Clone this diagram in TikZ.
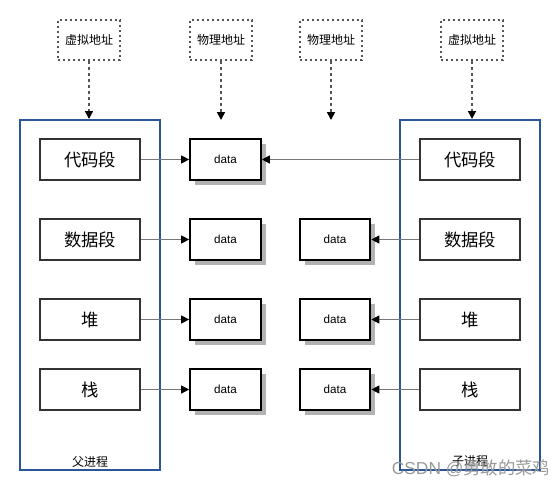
\documentclass[tikz,border=0pt]{standalone}
\usepackage{fontspec}
\setmainfont{Liberation Sans}
\newfontfamily\cjk{Noto Sans CJK SC}
\usepackage{tikz}
\usetikzlibrary{arrows.meta,shadows}
\definecolor{procblue}{HTML}{2A5699}
\definecolor{linegray}{HTML}{777777}
\definecolor{dotgray}{HTML}{555555}

\tikzset{
 addr/.style={draw=dotgray, line width=1.4pt, dash pattern=on 1.5pt off 2.25pt, minimum width=46.5pt, minimum height=30pt, inner sep=0pt, font=\cjk\fontsize{9}{9}\selectfont},
 proc/.style={draw=procblue, line width=1.5pt, minimum width=105pt, minimum height=262.5pt},
 seg/.style={draw=black!80, line width=1.5pt, fill=white, minimum width=75pt, minimum height=30.75pt, font=\cjk\fontsize{13}{13}\selectfont},
 databox/.style={draw=black, line width=1.5pt, fill=white, minimum width=53pt, minimum height=30.75pt, font=\fontsize{8.75}{8.75}\selectfont, drop shadow={shadow xshift=3.75pt, shadow yshift=-3.75pt, fill=black!30, opacity=1}},
 link/.style={draw=linegray, line width=0.75pt, -{Triangle[length=6pt,width=6pt,fill=black,color=black]}},
 addrlink/.style={link, draw=dotgray, line width=1.2pt, dash pattern=on 2.25pt off 2.25pt}
}

\begin{document}
\begin{tikzpicture}[x=0.75pt, y=-0.75pt]
\useasboundingbox (0,0) rectangle (560,490);
% address boxes
\node[addr] (va1) at (89,40) {虚拟地址};
\node[addr] (pa1) at (221,40) {物理地址};
\node[addr] (pa2) at (331,40) {物理地址};
\node[addr] (va2) at (472,40) {虚拟地址};
% processes
\node[proc] (parent) at (90,295) {};
\node[proc] (child) at (470,295) {};
\node[font=\cjk\fontsize{9}{9}\selectfont] (parentlabel) at (90,462) {父进程};
\node[font=\cjk\fontsize{9}{9}\selectfont] (childlabel) at (470,461) {子进程};
\coordinate (pa1end) at (221,120);
\coordinate (pa2end) at (331,120);
\draw[addrlink] (va1) -- (va1 |- parent.north);
\draw[addrlink] (pa1) -- (pa1end);
\draw[addrlink] (pa2) -- (pa2end);
\draw[addrlink] (va2) -- (va2 |- child.north);
% segments and data
\foreach \i/\y/\name in {1/159.5/代码段,2/239.5/数据段,3/319.5/堆,4/389.5/栈}{
  \node[seg] (p\i) at (90,\y) {\name};
  \node[seg] (c\i) at (470,\y) {\name};
  \node[databox] (d\i) at (225.5,\y) {data};
  \draw[link] (p\i) -- (d\i);
}
\foreach \i/\y in {2/239.5,3/319.5,4/389.5}{
  \node[databox] (e\i) at (335,\y) {data};
  \draw[link] (c\i) -- (e\i);
}
\draw[link] (c1) -- (d1);
\node[text=black!40, font=\fontsize{13}{13}\selectfont] (mark) at (471,468) {CSDN @{\cjk 勇敢的菜鸡}};
\end{tikzpicture}
\end{document}
